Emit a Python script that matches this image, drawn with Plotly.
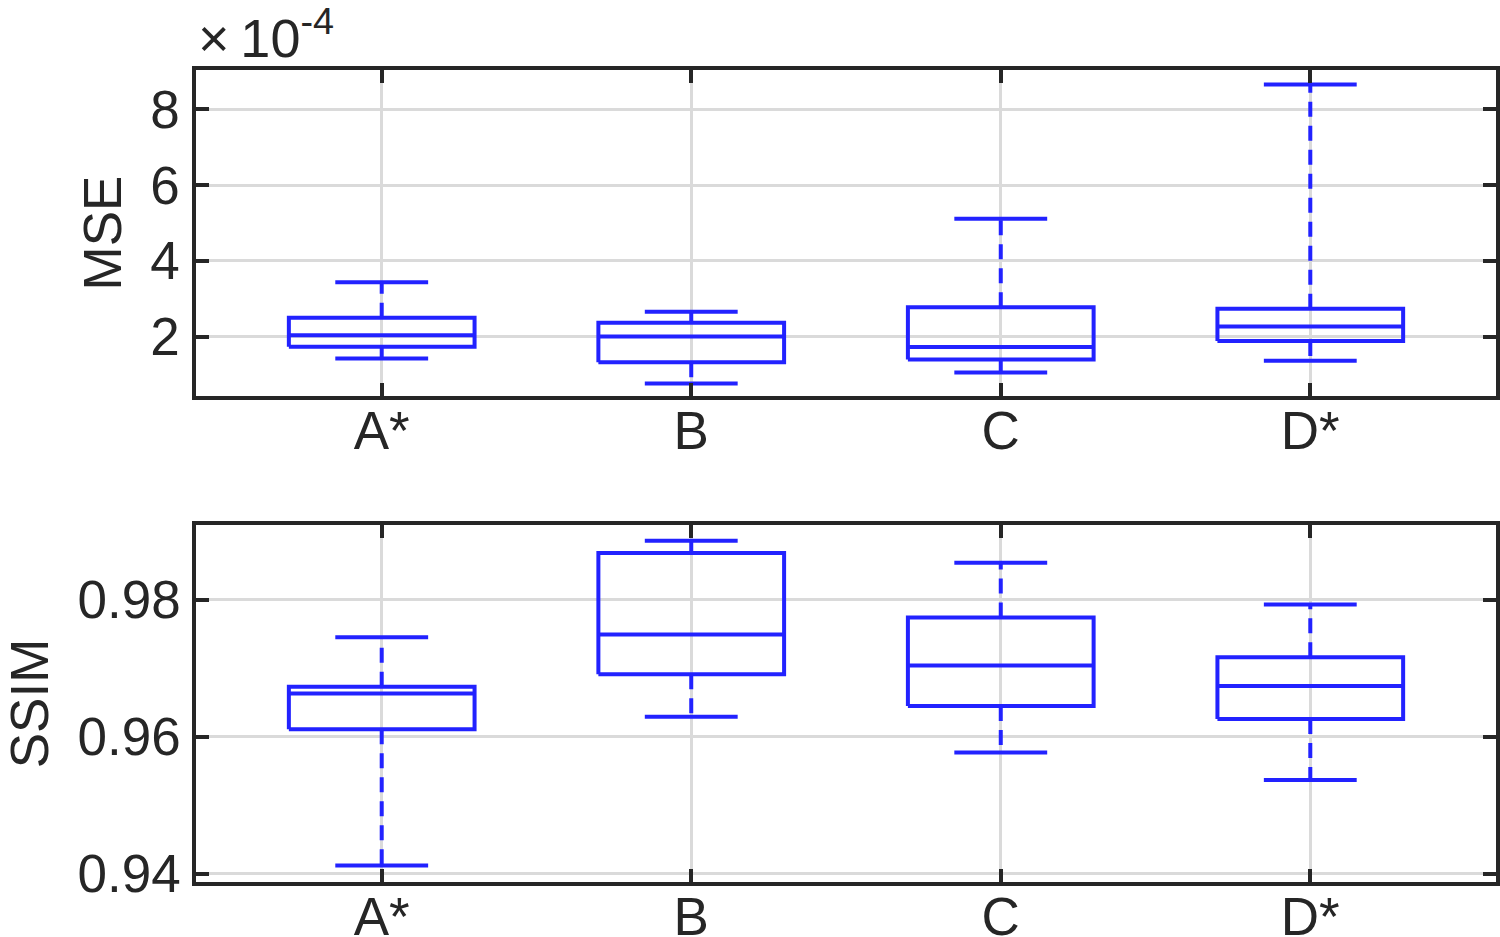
import plotly.graph_objects as go
from plotly.subplots import make_subplots

# 방법별 박스플롯 통계
methods = ["A*", "B", "C", "D*"]

# MSE (실제 값, 축은 1e-4 단위로 표시)
mse_lower = [1.43e-4, 0.77e-4, 1.06e-4, 1.37e-4]
mse_q1 = [1.74e-4, 1.33e-4, 1.40e-4, 1.89e-4]
mse_median = [2.04e-4, 2.01e-4, 1.73e-4, 2.27e-4]
mse_q3 = [2.50e-4, 2.37e-4, 2.78e-4, 2.74e-4]
mse_upper = [3.44e-4, 2.66e-4, 5.11e-4, 8.65e-4]
MSE_SCALE = 1e-4

# SSIM
ssim_lower = [0.9412, 0.9629, 0.9577, 0.9537]
ssim_q1 = [0.9611, 0.9691, 0.9645, 0.9626]
ssim_median = [0.9663, 0.9749, 0.9704, 0.9674]
ssim_q3 = [0.9673, 0.9868, 0.9774, 0.9716]
ssim_upper = [0.9745, 0.9886, 0.9854, 0.9793]

BLUE = "#2222ff"
INK = "#262626"
GRID = "#dadada"
FONT = "Liberation Sans"
BOX_HW = 0.3     # 박스 반폭
CAP_HW = 0.15    # 캡 반폭
LW = 4


def add_boxes(fig, row, lower, q1, med, q3, upper):
    bx, by, wx, wy, cx, cy = [], [], [], [], [], []
    for i in range(len(methods)):
        p = i + 1
        # 박스 + 중앙값
        bx += [p - BOX_HW, p + BOX_HW, p + BOX_HW, p - BOX_HW, p - BOX_HW, None,
               p - BOX_HW, p + BOX_HW, None]
        by += [q1[i], q1[i], q3[i], q3[i], q1[i], None, med[i], med[i], None]
        # 수염 (점선)
        wx += [p, p, None, p, p, None]
        wy += [q3[i], upper[i], None, q1[i], lower[i], None]
        # 캡
        cx += [p - CAP_HW, p + CAP_HW, None, p - CAP_HW, p + CAP_HW, None]
        cy += [upper[i], upper[i], None, lower[i], lower[i], None]

    line = dict(color=BLUE, width=LW)
    fig.add_trace(go.Scatter(x=wx, y=wy, mode="lines",
                             line=dict(color=BLUE, width=LW, dash="15px,9px")),
                  row=row, col=1)
    fig.add_trace(go.Scatter(x=cx, y=cy, mode="lines", line=line), row=row, col=1)
    fig.add_trace(go.Scatter(x=bx, y=by, mode="lines", line=line), row=row, col=1)


fig = make_subplots(rows=2, cols=1, vertical_spacing=0.1588)
fig.update_yaxes(domain=[0.5985, 1.0], row=1, col=1)
fig.update_yaxes(domain=[0.0, 0.4397], row=2, col=1)

add_boxes(fig, 1,
          [v / MSE_SCALE for v in mse_lower], [v / MSE_SCALE for v in mse_q1],
          [v / MSE_SCALE for v in mse_median], [v / MSE_SCALE for v in mse_q3],
          [v / MSE_SCALE for v in mse_upper])
add_boxes(fig, 2, ssim_lower, ssim_q1, ssim_median, ssim_q3, ssim_upper)

axis_style = dict(
    showline=True, linecolor=INK, linewidth=3.5, mirror="allticks",
    ticks="inside", ticklen=13, tickwidth=3.5, tickcolor=INK,
    showgrid=True, gridcolor=GRID, gridwidth=2.5, zeroline=False,
    automargin=False,
    tickfont=dict(family=FONT, size=53, color=INK),
)
title_font = dict(family=FONT, size=53, color=INK)

for r in (1, 2):
    fig.update_xaxes(axis_style, range=[0.4, 4.6], tickvals=[1, 2, 3, 4],
                     ticktext=methods, ticklabelstandoff=-14, row=r, col=1)

fig.update_yaxes(axis_style, range=[0.44, 9.03], tickvals=[2, 4, 6, 8],
                 ticklabelstandoff=2,
                 title=dict(text="MSE", font=title_font, standoff=13),
                 row=1, col=1)
fig.update_yaxes(axis_style, range=[0.9388, 0.9909], tickvals=[0.94, 0.96, 0.98],
                 tickformat=".2f", ticklabelstandoff=1,
                 title=dict(text="SSIM", font=title_font, standoff=47),
                 row=2, col=1)

fig.add_annotation(
    text="×\u200910<sup>-4</sup>", xref="paper", yref="paper", x=0.0, y=1.0,
    xanchor="left", yanchor="bottom", showarrow=False, yshift=0,
    font=dict(family=FONT, size=54, color=INK),
)

fig.update_layout(
    width=1500, height=937,
    margin=dict(l=196, r=4, t=70, b=55),
    paper_bgcolor="white", plot_bgcolor="white",
    showlegend=False,
)

fig.write_html(
    "out.html",
    config={"displayModeBar": False},
    post_script="document.body.style.margin='0';document.body.style.overflow='hidden';",
)
